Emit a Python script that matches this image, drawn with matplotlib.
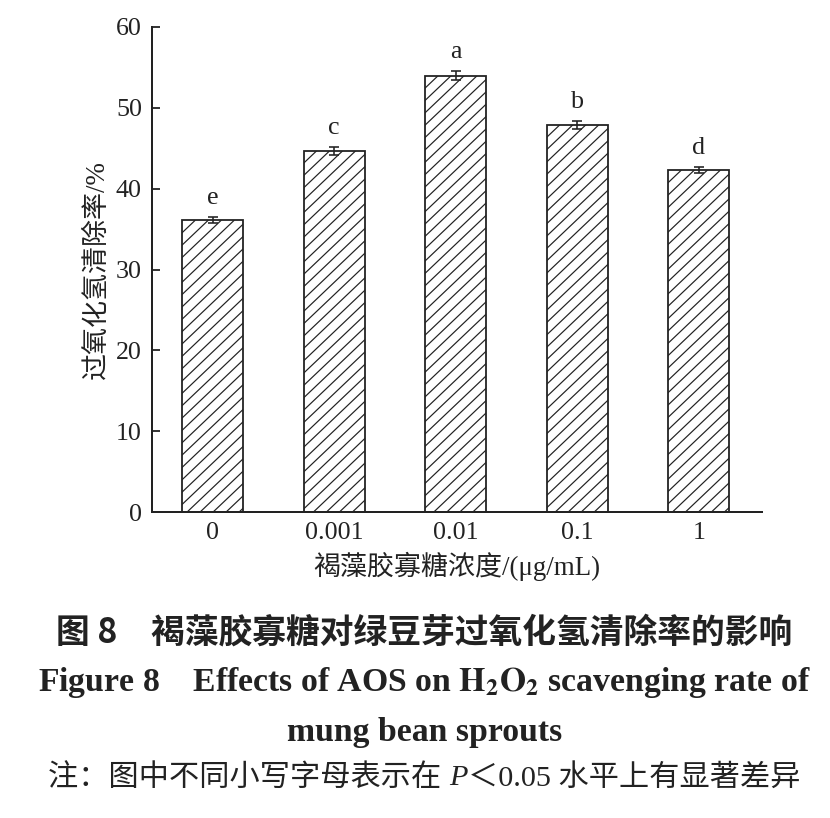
import matplotlib
matplotlib.use('Agg')
import matplotlib.pyplot as plt
from matplotlib.collections import LineCollection
import numpy as np

plt.rcParams['font.family'] = ['Liberation Serif', 'Noto Sans CJK SC']
plt.rcParams['mathtext.fontset'] = 'stix'
plt.rcParams['axes.unicode_minus'] = False

# data
concentrations = ['0', '0.001', '0.01', '0.1', '1']
scavenging_rate = [36.1, 44.7, 54.0, 47.9, 42.3]
errors = [0.4, 0.5, 0.6, 0.5, 0.4]
letters = ['e', 'c', 'a', 'b', 'd']

fig = plt.figure(figsize=(830 / 144, 818 / 144), dpi=144)
ax = fig.add_axes([0.183, 0.374, 0.735, 0.593])
ax.set_xlim(-0.5, 4.52)
ax.set_ylim(0, 60)

x = np.arange(len(concentrations))
bars = ax.bar(x, scavenging_rate, width=0.5, color='white', edgecolor='#222222',
              linewidth=0.9, zorder=2)

# hatch lines clipped to each bar
px_x = ax.bbox.width / (4.52 + 0.5)
px_y = ax.bbox.height / 60
slope = 0.95 * px_x / px_y      # data units of y per unit of x
step = 13 / px_x                # horizontal spacing in data units
for b in bars:
    x0, w, h = b.get_x(), b.get_width(), b.get_height()
    starts = np.arange(x0 - h / slope, x0 + w, step)
    segs = [[(s, 0), (s + h / slope, h)] for s in starts]
    lc = LineCollection(segs, colors='#222222', linewidths=0.6, zorder=2.5)
    ax.add_collection(lc)
    lc.set_clip_path(b)

ax.errorbar(x, scavenging_rate, yerr=errors, fmt='none', ecolor='#222222',
            elinewidth=0.8, capsize=2.5, capthick=0.8, zorder=3)

# significance letters
for xi, v, e, s in zip(x, scavenging_rate, errors, letters):
    ax.text(xi, v + e + 1.0, s, ha='center', va='bottom', fontsize=13,
            color='#222222')

ax.set_yticks([0, 10, 20, 30, 40, 50, 60])
ax.set_xticks(x)
ax.set_xticklabels(concentrations)
ax.tick_params(direction='in', length=4, width=0.9, labelsize=13,
               colors='#222222', pad=5)
for side in ['top', 'right']:
    ax.spines[side].set_visible(False)
for side in ['left', 'bottom']:
    ax.spines[side].set_linewidth(1.0)
    ax.spines[side].set_color('#222222')
    ax.spines[side].set_zorder(4)

ax.set_ylabel('过氧化氢清除率/%', fontsize=13.5, color='#222222', labelpad=3)
ax.set_xlabel('褐藻胶寡糖浓度/(μg/mL)', fontsize=13.5, color='#222222', labelpad=4)

# caption
cx = 0.511
fig.text(cx, 1 - 632 / 818, '图 8\u3000褐藻胶寡糖对绿豆芽过氧化氢清除率的影响',
         ha='center', va='center', fontsize=16.9, fontweight='bold',
         color='#222222', family=['Noto Sans CJK SC'])
fig.text(cx, 1 - 683 / 818,
         r'Figure 8    Effects of AOS on $\mathbf{H_2O_2}$ scavenging rate of',
         ha='center', va='center', fontsize=16.9, fontweight='bold',
         color='#222222')
fig.text(cx, 1 - 733 / 818, 'mung bean sprouts',
         ha='center', va='center', fontsize=16.9, fontweight='bold',
         color='#222222')

# note line: pieces placed side by side so the P can be italic
note_parts = [('注：图中不同小写字母表示在 ', 'normal'), ('P', 'italic'),
              ('＜0.05 水平上有显著差异', 'normal')]
renderer = fig.canvas.get_renderer()
note_y = 1 - 778 / 818
pieces = []
for txt, style in note_parts:
    t = fig.text(0, note_y, txt, ha='left', va='center', fontsize=15.1,
                 style=style, color='#222222')
    pieces.append(t)
widths = [p.get_window_extent(renderer).width / fig.bbox.width for p in pieces]
x0 = cx - sum(widths) / 2
for p, w in zip(pieces, widths):
    p.set_x(x0)
    x0 += w

fig.savefig('out.png', dpi=144)
